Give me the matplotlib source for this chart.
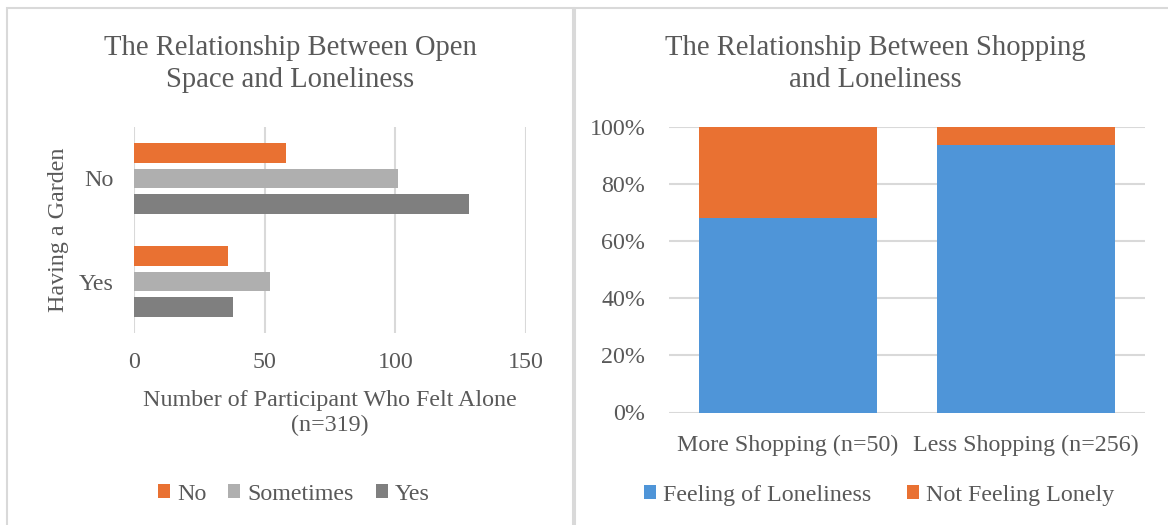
import numpy as np
import matplotlib.pyplot as plt
from matplotlib.patches import Rectangle
from matplotlib.ticker import PercentFormatter

# Daten
garden_cats = ['Yes', 'No']
felt_no = [36, 58]
felt_sometimes = [52, 101]
felt_yes = [38, 128]

shop_cats = ['More Shopping (n=50)', 'Less Shopping (n=256)']
lonely_pct = [68, 93.75]
not_lonely_pct = [32, 6.25]

plt.rcParams['font.family'] = ['Liberation Serif', 'DejaVu Serif']
txt = '#595959'
grid = '#D9D9D9'
c_orange = '#E97132'
c_lgray = '#AFAFAF'
c_dgray = '#7F7F7F'
c_blue = '#4F95D8'
fs = 17.3
fs_title = 20.6

W, H = 1168, 525
fig = plt.figure(figsize=(W / 100, H / 100), dpi=100)


def px(l, t, r, b):
    return [l / W, 1 - b / H, (r - l) / W, (b - t) / H]


# Rahmen der beiden Diagramme
for x0, x1 in [(7, 573), (575, 1172)]:
    fig.patches.append(Rectangle((x0 / W, -0.05), (x1 - x0) / W, 1 - 8 / H + 0.05,
                                 transform=fig.transFigure, fill=False,
                                 edgecolor=grid, linewidth=1.5))

################################
# Links: Garten
ax1 = fig.add_axes(px(134, 127, 526, 333))
y = np.arange(len(garden_cats))
step = 0.25
h = 0.19
ax1.barh(y + step, felt_no, height=h, color=c_orange, label='No')
ax1.barh(y, felt_sometimes, height=h, color=c_lgray, label='Sometimes')
ax1.barh(y - step, felt_yes, height=h, color=c_dgray, label='Yes')
ax1.set_xlim(0, 150)
ax1.set_ylim(-0.5, 1.5)
ax1.set_xticks([0, 50, 100, 150])
ax1.set_yticks(y)
ax1.set_yticklabels(garden_cats)
ax1.grid(axis='x', color=grid, linewidth=1.5)
ax1.set_axisbelow(True)
for s in ax1.spines.values():
    s.set_visible(False)
ax1.tick_params(length=0, labelsize=fs, labelcolor=txt)
ax1.tick_params(axis='x', pad=14)
ax1.tick_params(axis='y', pad=15)
ax1.set_xlabel('Number of Participant Who Felt Alone\n(n=319)', fontsize=fs,
               color=txt, labelpad=12, linespacing=1.25)
ax1.set_ylabel('Having a Garden', fontsize=fs, color=txt, labelpad=7)
fig.text(290 / W, 1 - 64 / H, 'The Relationship Between Open\nSpace and Loneliness',
         fontsize=fs_title, color=txt, ha='center', va='center', linespacing=1.32)
ax1.legend(loc='center', bbox_to_anchor=(294 / W, 1 - 494 / H),
           bbox_transform=fig.transFigure, ncol=3, frameon=False,
           fontsize=fs, labelcolor=txt, handlelength=0.5, handleheight=0.5,
           handletextpad=0.3, columnspacing=0.9)

################################
# Rechts: Einkaufen
ax2 = fig.add_axes(px(669, 127, 1145, 412.5))
x = np.arange(len(shop_cats))
ax2.bar(x, lonely_pct, width=0.75, color=c_blue, label='Feeling of Loneliness')
ax2.bar(x, not_lonely_pct, width=0.75, bottom=lonely_pct, color=c_orange,
        label='Not Feeling Lonely')
ax2.set_ylim(0, 100)
ax2.set_xlim(-0.5, 1.5)
ax2.set_yticks(range(0, 101, 20))
ax2.yaxis.set_major_formatter(PercentFormatter(decimals=0))
ax2.set_xticks(x)
ax2.set_xticklabels(shop_cats)
ax2.grid(axis='y', color=grid, linewidth=1.5)
ax2.set_axisbelow(True)
for s in ax2.spines.values():
    s.set_visible(False)
ax2.tick_params(length=0, labelsize=fs, labelcolor=txt)
ax2.tick_params(axis='x', pad=16)
ax2.tick_params(axis='y', pad=17)
fig.text(875 / W, 1 - 64 / H, 'The Relationship Between Shopping\nand Loneliness',
         fontsize=fs_title, color=txt, ha='center', va='center', linespacing=1.32)
ax2.legend(loc='center', bbox_to_anchor=(879 / W, 1 - 495 / H),
           bbox_transform=fig.transFigure, ncol=2, frameon=False,
           fontsize=fs, labelcolor=txt, handlelength=0.5, handleheight=0.5,
           handletextpad=0.3, columnspacing=1.5)

fig.savefig('out.png', dpi=100)
